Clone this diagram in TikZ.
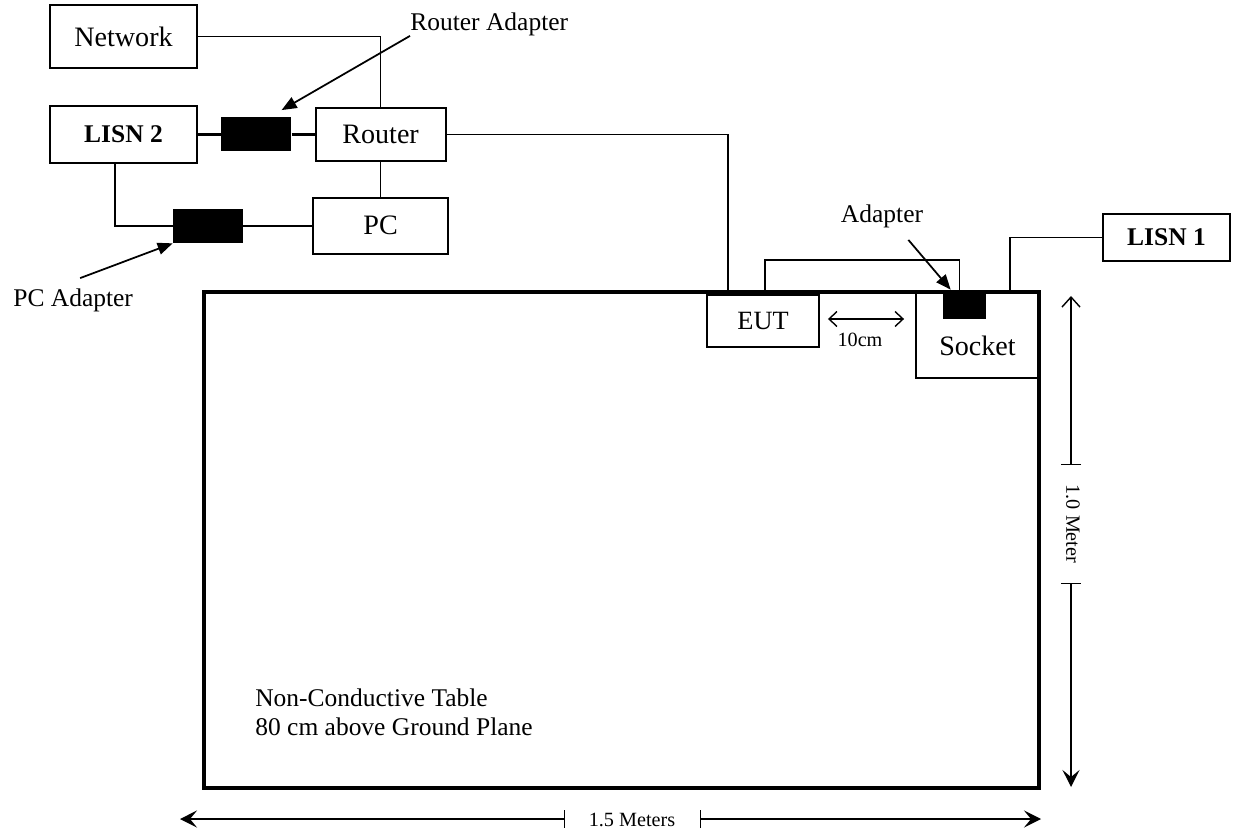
\documentclass[tikz,border=0pt]{standalone}
\usepackage{fontspec}
\setmainfont{Liberation Serif}
\usepackage{tikz}
\usetikzlibrary{positioning, arrows.meta, calc}

\begin{document}
\begin{tikzpicture}[
    x=0.02cm, y=-0.02cm,
    box/.style={
        rectangle,
        draw,
        line width=1.1pt,
        inner sep=0pt,
        align=center,
        font=\fontsize{16}{19}\selectfont
    },
    lisn/.style={
        box,
        font=\fontsize{14.5}{17}\selectfont\bfseries
    },
    plug/.style={
        rectangle,
        fill=black,
        inner sep=0pt
    },
    tablebox/.style={
        rectangle,
        draw,
        line width=2.3pt,
        minimum width=16.7cm,
        minimum height=9.92cm
    },
    note/.style={
        inner sep=0pt,
        font=\fontsize{14.5}{16.5}\selectfont
    },
    dimtext/.style={
        inner sep=0pt,
        font=\fontsize{11.5}{13}\selectfont
    },
    wire/.style={
        line width=0.9pt
    },
    thickwire/.style={
        line width=1.7pt
    },
    pointer/.style={
        line width=1pt,
        -{Triangle[length=0.3cm, width=0.24cm]}
    },
    dimline/.style={
        line width=0.8pt
    }
]
\useasboundingbox (0,0) rectangle (1233,834);

\node[box, minimum width=2.94cm, minimum height=1.26cm] (network) at (123.5,36.5) {Network};
\node[lisn, minimum width=2.94cm, minimum height=1.14cm, below=0.72cm of network] (lisn2) {LISN 2};
\node[plug, minimum width=1.4cm, minimum height=0.68cm, right=0.46cm of lisn2] (radapt) {};
\node[box, minimum width=2.6cm, minimum height=1.06cm, right=0.46cm of radapt] (router) {Router};
\node[box, minimum width=2.7cm, minimum height=1.12cm, below=0.7cm of router] (pc) {PC};
\node[plug, minimum width=1.4cm, minimum height=0.68cm] (padapt) at (208,226) {};

\node[box, minimum width=2.46cm, minimum height=1.72cm, text height=0.9cm, text depth=0.08cm] (socket) at (977.5,335) {Socket};
\node[tablebox] (table) at (621.5,540) {};
\node[box, minimum width=2.24cm, minimum height=1.04cm, font=\fontsize{15}{18}\selectfont] (eut) at (763,321) {EUT};
\node[plug, minimum width=0.86cm, minimum height=0.54cm] (sadapt) at (964.5,305.5) {};
\node[lisn, minimum width=2.54cm, minimum height=0.94cm] (lisn1) at (1166.5,237.5) {LISN 1};

\coordinate (eutfeed) at (728,292);
\coordinate (lisnfeed) at (1010,292);

\draw[wire] (network.east) -| (router.north);
\draw[wire] (router.south) -- (pc.north);
\draw[thickwire] (lisn2.east) -- (radapt.west);
\draw[thickwire] (radapt.east) -- (router.west);
\draw[wire] (router.east) -| (eutfeed);
\draw[wire] ($(lisn2.south)+(-8.5,0)$) |- (padapt.west);
\draw[wire] (padapt.east) -- (padapt.east -| pc.west);
\draw[wire] ($(eut.north)+(2,-3)$) -- ++(0,-31) -| ($(sadapt.north)+(-5,0)$);
\draw[wire] (lisn1.west) -| (lisnfeed);

\node[note, anchor=west] (ratext) at (410,24) {Router Adapter};
\draw[pointer] (ratext.south west) -- ($(radapt.north east)+(-10,-7)$);
\node[note, anchor=west] (pctext) at (13,300) {PC Adapter};
\draw[pointer] ($(pctext.north)+(7,-10)$) -- (padapt.south west);
\node[note] (satext) at (882,216) {Adapter};
\draw[pointer] ($(satext.south east)+(-15,12)$) -- ($(sadapt.north west)+(8,-2)$);

\draw[dimline, {Straight Barb[length=0.16cm, width=0.3cm]}-{Straight Barb[length=0.16cm, width=0.3cm]}] ($(eut.east)+(8,-2)$) -- ($(eut.east -| socket.west)+(-11,-2)$);
\node[dimtext] (gaptext) at (860,340) {10cm};

\node[note, anchor=north west, align=left] (tabletext) at (255,688) {Non-Conductive Table\\80 cm above Ground Plane};

\coordinate (vtop) at (1071,296);
\coordinate (vtick1) at (1071,465);
\coordinate (vtick2) at (1071,583);
\coordinate (vbot) at (1071,787);
\node[dimtext, rotate=-90] (vtext) at (1073,524) {1.0 Meter};
\draw[dimline, {Bar[width=0.4cm]}-{Straight Barb[length=0.2cm, width=0.36cm]}] (vtick1) -- (vtop);
\draw[dimline, {Bar[width=0.4cm]}-{Stealth[length=0.34cm, width=0.34cm, inset=0.14cm]}] (vtick2) -- (vbot);

\coordinate (hleft) at (180,819);
\coordinate (htick1) at (565,819);
\coordinate (htick2) at (700,819);
\coordinate (hright) at (1041,819);
\node[dimtext] (htext) at (632,820) {1.5 Meters};
\draw[dimline, {Bar[width=0.36cm]}-{Stealth[length=0.34cm, width=0.34cm, inset=0.14cm]}] (htick1) -- (hleft);
\draw[dimline, {Bar[width=0.36cm]}-{Stealth[length=0.34cm, width=0.34cm, inset=0.14cm]}] (htick2) -- (hright);

\end{tikzpicture}
\end{document}
